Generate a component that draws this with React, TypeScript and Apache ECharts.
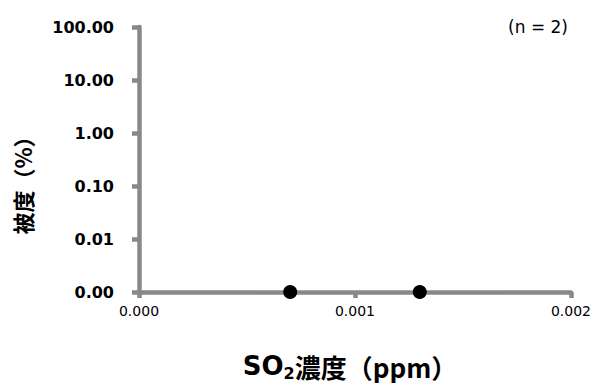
import React, { useEffect, useRef } from "react";
import * as echarts from "echarts";

const so2Concentration = [0.0007, 0.0013];
const coverage = [0.001, 0.001];
const xTicks = { min: 0, max: 0.002, interval: 0.001 };
const yRange = { min: 0.001, max: 100 };
const yTitle = "被度（%）";
const nLabel = "(n = 2)";

export default function App() {
  const ref = useRef<HTMLDivElement>(null);
  useEffect(() => {
    if (!ref.current) return;
    const chart = echarts.init(ref.current, undefined, { renderer: "svg" });
    const axisGray = "#888888";
    chart.setOption({
      animation: false,
      backgroundColor: "#ffffff",
      grid: { left: 139, right: 23, top: 27, bottom: 91, containLabel: false },
      xAxis: {
        type: "value",
        min: xTicks.min,
        max: xTicks.max,
        interval: xTicks.interval,
        axisLine: { show: true, lineStyle: { color: axisGray, width: 4.5 } },
        axisTick: { show: true, length: 6, lineStyle: { color: axisGray, width: 4.5 } },
        splitLine: { show: false },
        axisLabel: {
          margin: 12,
          color: "#000",
          fontFamily: "DejaVu Sans",
          fontSize: 14,
          formatter: (v: number) => v.toFixed(3),
        },
      },
      yAxis: {
        type: "log",
        logBase: 10,
        min: yRange.min,
        max: yRange.max,
        axisLine: { show: true, lineStyle: { color: axisGray, width: 4.5 } },
        axisTick: { show: true, length: 7, lineStyle: { color: axisGray, width: 4.5 } },
        splitLine: { show: false },
        minorTick: { show: false },
        axisLabel: {
          margin: 25,
          color: "#000",
          fontFamily: "DejaVu Sans",
          fontWeight: "bold",
          fontSize: 16,
          formatter: (v: number) => v.toFixed(2),
        },
      },
      graphic: [
        {
          type: "text",
          x: 22,
          y: 180,
          rotation: Math.PI / 2,
          style: {
            text: yTitle,
            fontFamily: "Noto Sans CJK JP",
            fontWeight: "bold",
            fontSize: 22,
            fill: "#000",
            textAlign: "center",
            textVerticalAlign: "middle",
          },
        },
        {
          type: "text",
          x: 350,
          y: 366,
          style: {
            text: "{a|SO}{b|2}{c|濃度（ppm）}",
            textAlign: "center",
            textVerticalAlign: "middle",
            rich: {
              a: {
                fontFamily: "DejaVu Sans",
                fontWeight: "bold",
                fontSize: 26,
                lineHeight: 30,
                color: "#000",
              },
              b: {
                fontFamily: "DejaVu Sans",
                fontWeight: "bold",
                fontSize: 16,
                lineHeight: 14,
                verticalAlign: "bottom",
                color: "#000",
              },
              c: {
                fontFamily: "Noto Sans CJK JP",
                fontWeight: "bold",
                fontSize: 26,
                lineHeight: 30,
                color: "#000",
              },
            },
          },
        },
        {
          type: "text",
          x: 568,
          y: 27,
          style: {
            text: nLabel,
            fontFamily: "DejaVu Sans",
            fontSize: 17,
            fill: "#000",
            textAlign: "right",
            textVerticalAlign: "middle",
          },
        },
      ],
      series: [
        {
          type: "scatter",
          data: so2Concentration.map((x, i) => [x, coverage[i]]),
          symbol: "circle",
          symbolSize: 14,
          clip: false,
          z: 10,
          itemStyle: { color: "#000000", opacity: 1 },
        },
      ],
    });
    return () => chart.dispose();
  }, []);
  return <div ref={ref} style={{ width: 594, height: 383, position: "absolute", left: 0, top: 0 }} />;
}
